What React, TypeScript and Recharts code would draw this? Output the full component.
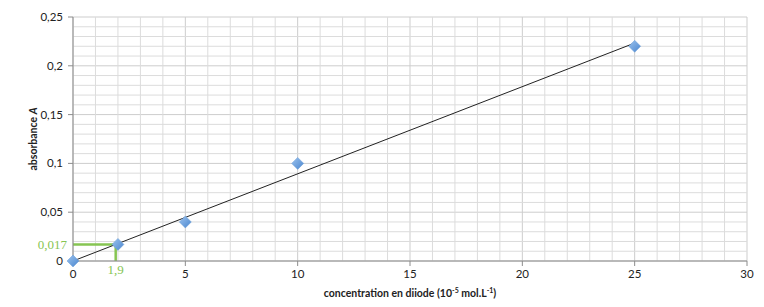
import React from "react";
import {
  ComposedChart,
  Scatter,
  XAxis,
  YAxis,
  CartesianGrid,
  ReferenceLine,
  ReferenceDot,
  Label,
} from "recharts";

// measured points
const concentration = [0, 2, 5, 10, 25];
const absorbance = [0, 0.017, 0.04, 0.1, 0.22];

// trend line (linear fit through origin)
const trendX = [0, 25];
const trendY = [0, 0.2233];

// reading on the graph
const readX = 1.9;
const readY = 0.017;

const xTicks = [0, 5, 10, 15, 20, 25, 30];
const yTicks = [0, 0.05, 0.1, 0.15, 0.2, 0.25];
const xMinor = Array.from({ length: 31 }, (_, i) => i).filter((v) => v % 5 !== 0);
const yMinor = Array.from({ length: 26 }, (_, i) => i).filter((v) => v % 5 !== 0).map((v) => v / 100);

const points = concentration.map((x, i) => ({ x, y: absorbance[i] }));
const trend = trendX.map((x, i) => ({ x, y: trendY[i] }));

const GREEN = "#86c552";
const FONT = "Lato, 'Open Sans', sans-serif";

const Diamond = (props: any) => {
  const { cx, cy } = props;
  const r = 6;
  return (
    <polygon
      points={`${cx},${cy - r} ${cx + r},${cy} ${cx},${cy + r} ${cx - r},${cy}`}
      fill="url(#diam)"
      stroke="#6a9fd8"
      strokeWidth={0.5}
    />
  );
};

const NoShape = () => null;

const XTitle = (props: any) => {
  const { x, y, width } = props.viewBox;
  return (
    <text
      x={x + width / 2}
      y={y + 36}
      textAnchor="middle"
      fontFamily={FONT}
      fontWeight="bold"
      fontSize={10.5}
      fill="#222"
    >
      concentration en diiode (10
      <tspan fontSize={7} dy={-4}>-5</tspan>
      <tspan dy={4}> mol.L</tspan>
      <tspan fontSize={7} dy={-4}>-1</tspan>
      <tspan dy={4}>)</tspan>
    </text>
  );
};

const YTitle = (props: any) => {
  const { y, height } = props.viewBox;
  const cx = 37;
  const cy = y + height / 2;
  return (
    <text
      x={cx}
      y={cy}
      transform={`rotate(-90 ${cx} ${cy})`}
      textAnchor="middle"
      fontFamily={FONT}
      fontWeight="bold"
      fontSize={10.5}
      fill="#222"
    >
      absorbance <tspan fontStyle="italic">A</tspan>
    </text>
  );
};

const fmt = (v: number) => String(v).replace(".", ",");

export default function App() {
  return (
    <div style={{ position: "fixed", left: 0, top: 0, background: "#fff" }}>
      <ComposedChart
        width={764}
        height={307}
        margin={{ top: 17, right: 17, bottom: 0, left: 0 }}
      >
        <defs>
          <linearGradient id="diam" x1="0" y1="0" x2="1" y2="1">
            <stop offset="0%" stopColor="#9cc3ee" />
            <stop offset="100%" stopColor="#4a86cf" />
          </linearGradient>
        </defs>
        <XAxis
          type="number"
          dataKey="x"
          domain={[0, 30]}
          ticks={xTicks}
          height={46}
          tickSize={5}
          tickMargin={4}
          stroke="#8c8c8c"
          tick={{ fill: "#222", fontSize: 11.5, fontFamily: FONT }}
        >
          <Label content={<XTitle />} />
        </XAxis>
        <YAxis
          type="number"
          dataKey="y"
          domain={[0, 0.25]}
          ticks={yTicks}
          width={73}
          tickSize={5}
          tickMargin={5}
          tickFormatter={fmt}
          stroke="#8c8c8c"
          tick={{ fill: "#222", fontSize: 11.5, fontFamily: FONT }}
        >
          <Label content={<YTitle />} />
        </YAxis>
        {xMinor.map((v) => (
          <ReferenceLine key={`vx${v}`} x={v} stroke="#dcdcdc" strokeWidth={1} />
        ))}
        {yMinor.map((v) => (
          <ReferenceLine key={`hy${v}`} y={v} stroke="#dcdcdc" strokeWidth={1} />
        ))}
        <CartesianGrid stroke="#cdcdcd" strokeWidth={1} />
        <ReferenceLine
          segment={[{ x: 0, y: readY }, { x: 2, y: readY }]}
          stroke={GREEN}
          strokeWidth={2.5}
        />
        <ReferenceLine
          segment={[{ x: readX, y: readY }, { x: readX, y: 0 }]}
          stroke={GREEN}
          strokeWidth={2.5}
        />
        <Scatter
          data={trend}
          line={{ stroke: "#222", strokeWidth: 1 }}
          shape={<NoShape />}
          isAnimationActive={false}
        />
        <Scatter data={points} shape={<Diamond />} isAnimationActive={false} />
        <ReferenceDot
          x={0}
          y={readY}
          r={0}
          fill="none"
          stroke="none"
          label={{
            value: "0,017",
            position: "left",
            offset: 6,
            fill: GREEN,
            fontSize: 13,
            fontFamily: "'Liberation Serif', serif",
          }}
        />
        <ReferenceDot
          x={readX}
          y={0}
          r={0}
          fill="none"
          stroke="none"
          label={{
            value: "1,9",
            position: "bottom",
            offset: 4,
            fill: GREEN,
            fontSize: 13,
            fontFamily: "'Liberation Serif', serif",
          }}
        />
      </ComposedChart>
    </div>
  );
}
